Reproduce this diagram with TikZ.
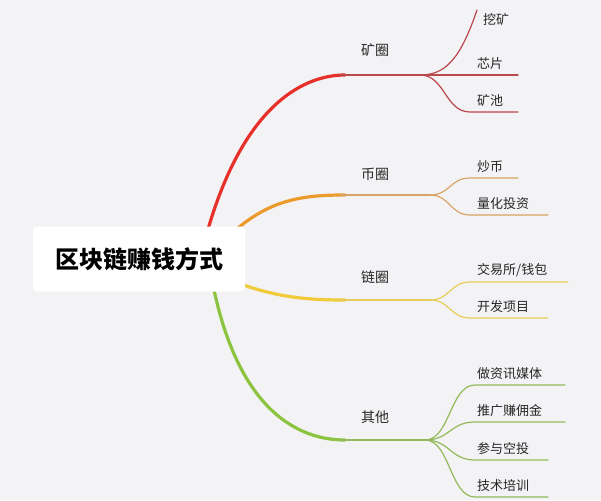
\documentclass[tikz,border=0pt]{standalone}
\usepackage{fontspec}
\newfontfamily\cjk{Noto Sans CJK SC}
\usetikzlibrary{positioning}
\definecolor{bgcol}{HTML}{F3F3F6}
\definecolor{kuang}{HTML}{E8302A}
\definecolor{kuangsub}{HTML}{B9474C}
\definecolor{bi}{HTML}{EB9A2C}
\definecolor{bisub}{HTML}{D7A465}
\definecolor{lian}{HTML}{F0CB3C}
\definecolor{liansub}{HTML}{E8CC5A}
\definecolor{qita}{HTML}{8CC43F}
\definecolor{qitasub}{HTML}{93B95A}
\tikzstyle{mind map}=[
    x=1pt,y=-1pt,line cap=round,
    every node/.style={font=\cjk\fontsize{13}{15}\selectfont,text=black!85},
    main/.style={line width=3.2pt},
    sub/.style={line width=1.2pt},
    branch/.style={font=\cjk\fontsize{14}{16}\selectfont},
]
\newcommand{\leaf}[4]{% name, y, end x, text
    \coordinate (#1) at (#3,#2);
    \node[anchor=south west,inner sep=1pt] at (476,#2-4) {#4};}

\begin{document}
\begin{tikzpicture}[mind map]
    \fill[bgcol] (0,0) rectangle (601,500);
    \useasboundingbox (0,0) rectangle (601,500);

    % branch curves behind the root box
    \coordinate (kq) at (420,75);
    \coordinate (bq) at (430,195);
    \coordinate (lq) at (430,300);
    \coordinate (qq) at (425,440);
    \draw[main,kuang] (205,240) .. controls (240,110) and (300,75) .. (345,75);
    \draw[sub,kuangsub] (340,75) -- (kq);
    \draw[main,bi] (225,240) .. controls (265,200) and (300,195) .. (345,195);
    \draw[sub,bisub] (340,195) -- (bq);
    \draw[main,lian] (230,280) .. controls (275,298) and (310,300) .. (345,300);
    \draw[sub,liansub] (340,300) -- (lq);
    \draw[main,qita] (212,280) .. controls (235,400) and (290,440) .. (345,440);
    \draw[sub,qitasub] (340,440) -- (qq);

    \node[fill=white,rounded corners=4pt,minimum width=212pt,minimum height=65pt,
          font=\cjk\bfseries\fontsize{24}{28}\selectfont,text=black] (root) at (139,259) {区块链赚钱方式};

    \node[branch] (kuangquan) at (375,50) {矿圈};
    \node[branch] (biquan) at (375,174) {币圈};
    \node[branch] (lianquan) at (375,277) {链圈};
    \node[branch] (qitaquan) at (375,417) {其他};

    % leaves
    \coordinate (wk) at (477,10);
    \node[anchor=west,inner sep=1pt] (wktext) at (482,20) {挖矿};
    \leaf{xp}{75}{518}{芯片}
    \leaf{kc}{112}{518}{矿池}
    \leaf{cb}{178}{518}{炒币}
    \leaf{lh}{215}{548}{量化投资}
    \leaf{jy}{282}{568}{交易所/钱包}
    \leaf{kf}{318}{548}{开发项目}
    \leaf{zx}{385}{565}{做资讯媒体}
    \leaf{tg}{422}{565}{推广赚佣金}
    \leaf{ck}{460}{548}{参与空投}
    \leaf{js}{497}{548}{技术培训}

    \draw[sub,kuangsub] (kq) .. controls (445,75) and (460,60) .. (wk);
    \draw[sub,kuangsub] (kq) -- (xp);
    \draw[sub,kuangsub] (kq) .. controls (445,75) and (445,112) .. (470,112) -- (kc);
    \draw[sub,bisub] (bq) .. controls (450,195) and (450,178) .. (470,178) -- (cb);
    \draw[sub,bisub] (bq) .. controls (450,195) and (450,215) .. (470,215) -- (lh);
    \draw[sub,liansub] (lq) .. controls (450,300) and (450,282) .. (470,282) -- (jy);
    \draw[sub,liansub] (lq) .. controls (450,300) and (450,318) .. (470,318) -- (kf);
    \foreach \leafend/\ly in {zx/385,tg/422,ck/460,js/497}
        \draw[sub,qitasub] (qq) .. controls (450,440) and (450,\ly) .. (475,\ly) -- (\leafend);
\end{tikzpicture}
\end{document}
